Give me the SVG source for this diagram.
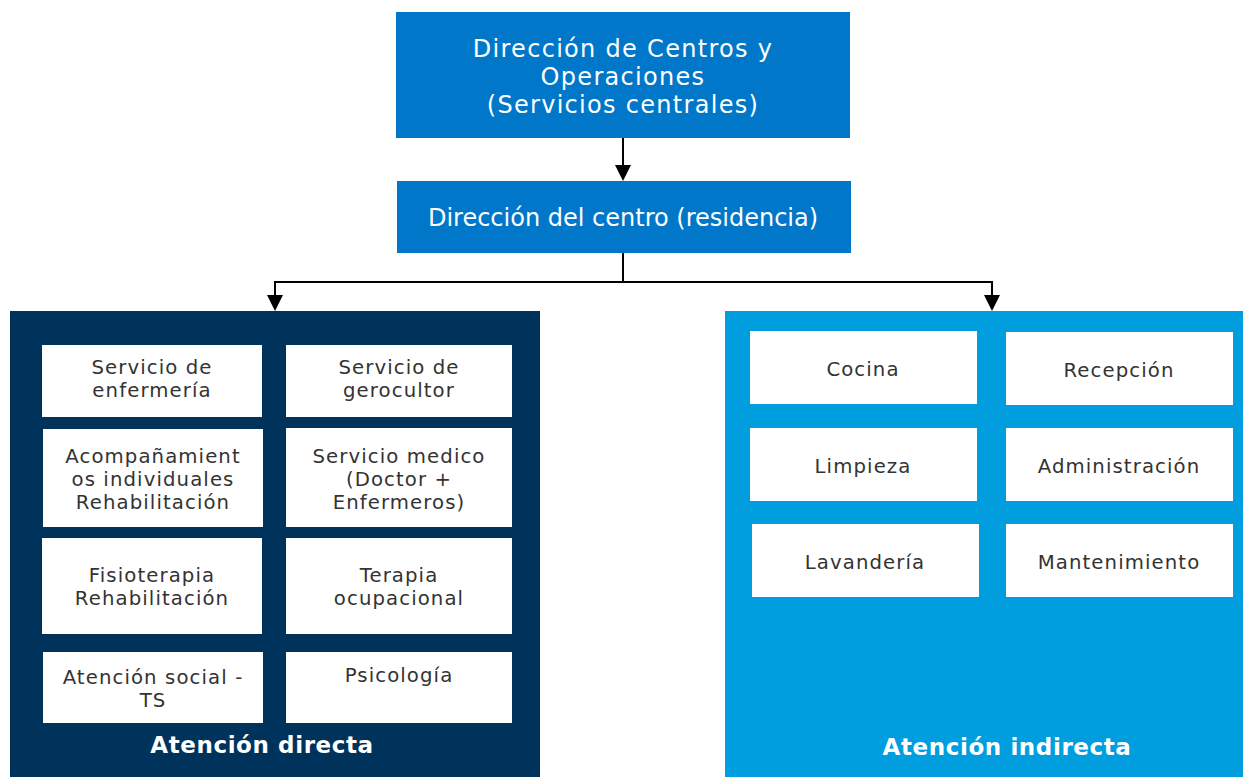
<svg xmlns="http://www.w3.org/2000/svg" width="1243" height="777" viewBox="0 0 1243 777">
<style>
.top{fill:#0077C8}
.w{fill:#ffffff}
.tw{font-family:"DejaVu Sans","Open Sans",sans-serif;fill:#ffffff;text-anchor:middle}
.tb{font-family:"DejaVu Sans","Open Sans",sans-serif;fill:#333333;text-anchor:middle;font-size:19.7px;letter-spacing:1.1px}
.lbl{font-family:"DejaVu Sans","Open Sans",sans-serif;fill:#ffffff;text-anchor:middle;font-weight:bold;font-size:23px;letter-spacing:0.6px}
.conn{stroke:#000;stroke-width:2;fill:none}
</style>
<rect width="1243" height="777" fill="#ffffff"/>

<g id="connectors">
<path class="conn" d="M623,138 V165"/>
<path d="M615,165 L631,165 L623,181 Z" fill="#000"/>
<path class="conn" d="M623,253 V282 M275,282 H992"/>
<path class="conn" d="M275,281 V295"/>
<path d="M267,295 L283,295 L275,311 Z" fill="#000"/>
<path class="conn" d="M992,281 V295"/>
<path d="M984,295 L1000,295 L992,311 Z" fill="#000"/>
</g>

<g id="dir-centros">
<rect class="top" x="396" y="12" width="454" height="126"/>
<text class="tw" font-size="24" letter-spacing="1.3" x="623" y="57">Dirección de Centros y</text>
<text class="tw" font-size="24" letter-spacing="1.3" x="623" y="85">Operaciones</text>
<text class="tw" font-size="24" letter-spacing="1.3" x="623" y="113">(Servicios centrales)</text>
</g>

<g id="dir-centro">
<rect class="top" x="397" y="181" width="454" height="72"/>
<text class="tw" font-size="24" x="623" y="226">Dirección del centro (residencia)</text>
</g>

<g id="atencion-directa">
<rect x="10" y="311" width="530" height="466" fill="#00335B"/>
<text class="lbl" x="262" y="753">Atención directa</text>
</g>

<g id="enfermeria">
<rect class="w" x="42" y="345" width="220" height="72"/>
<text class="tb" x="152" y="374">Servicio de</text>
<text class="tb" x="152" y="397">enfermería</text>
</g>
<g id="gerocultor">
<rect class="w" x="286" y="345" width="226" height="72"/>
<text class="tb" x="399" y="374">Servicio de</text>
<text class="tb" x="399" y="397">gerocultor</text>
</g>
<g id="acompanamientos">
<rect class="w" x="43" y="429" width="220" height="98"/>
<text class="tb" x="153" y="463">Acompañamient</text>
<text class="tb" x="153" y="486">os individuales</text>
<text class="tb" x="153" y="509">Rehabilitación</text>
</g>
<g id="medico">
<rect class="w" x="286" y="428" width="226" height="99"/>
<text class="tb" x="399" y="463">Servicio medico</text>
<text class="tb" x="399" y="486">(Doctor +</text>
<text class="tb" x="399" y="509">Enfermeros)</text>
</g>
<g id="fisioterapia">
<rect class="w" x="42" y="538" width="220" height="96"/>
<text class="tb" x="152" y="582">Fisioterapia</text>
<text class="tb" x="152" y="605">Rehabilitación</text>
</g>
<g id="terapia">
<rect class="w" x="286" y="538" width="226" height="96"/>
<text class="tb" x="399" y="582">Terapia</text>
<text class="tb" x="399" y="605">ocupacional</text>
</g>
<g id="social">
<rect class="w" x="43" y="652" width="220" height="71"/>
<text class="tb" x="153" y="684">Atención social -</text>
<text class="tb" x="153" y="707">TS</text>
</g>
<g id="psicologia">
<rect class="w" x="286" y="652" width="226" height="71"/>
<text class="tb" x="399" y="682">Psicología</text>
</g>

<g id="atencion-indirecta">
<rect x="725" y="311" width="518" height="466" fill="#009EDF"/>
<text class="lbl" x="1007" y="755">Atención indirecta</text>
</g>

<g id="cocina">
<rect class="w" x="750" y="331" width="227" height="73"/>
<text class="tb" x="863" y="376">Cocina</text>
</g>
<g id="recepcion">
<rect class="w" x="1006" y="332" width="227" height="73"/>
<text class="tb" x="1119" y="377">Recepción</text>
</g>
<g id="limpieza">
<rect class="w" x="750" y="428" width="227" height="73"/>
<text class="tb" x="863" y="473">Limpieza</text>
</g>
<g id="administracion">
<rect class="w" x="1006" y="428" width="227" height="73"/>
<text class="tb" x="1119" y="473">Administración</text>
</g>
<g id="lavanderia">
<rect class="w" x="752" y="524" width="227" height="73"/>
<text class="tb" x="865" y="569">Lavandería</text>
</g>
<g id="mantenimiento">
<rect class="w" x="1006" y="524" width="227" height="73"/>
<text class="tb" x="1119" y="569">Mantenimiento</text>
</g>
</svg>
